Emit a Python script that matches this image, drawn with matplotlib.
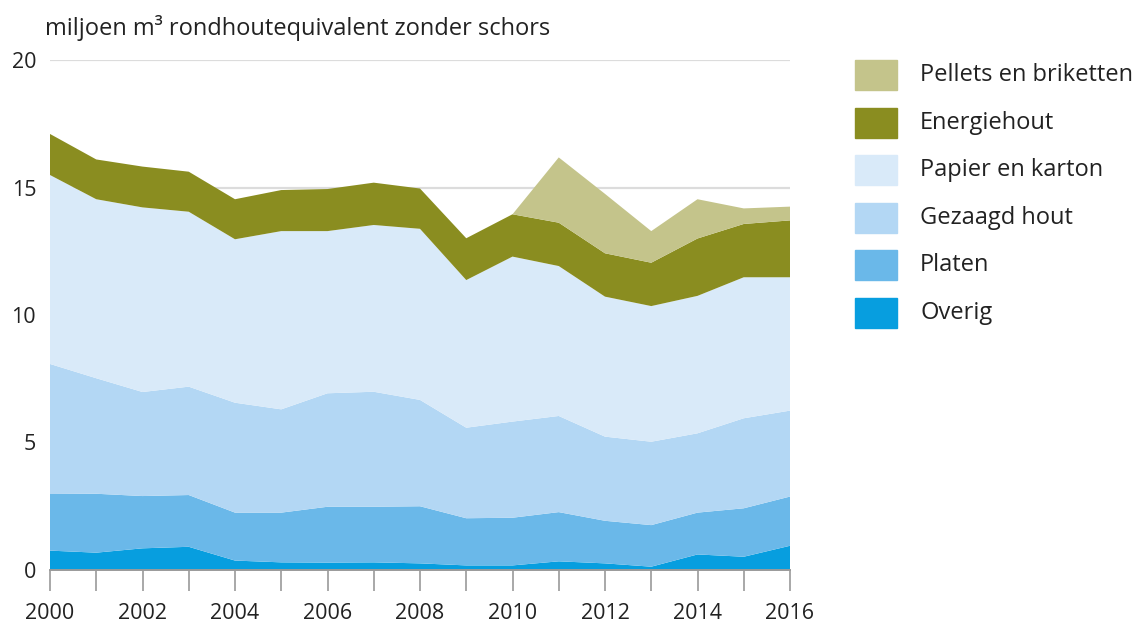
import matplotlib
matplotlib.use("Agg")
import matplotlib.pyplot as plt
from matplotlib.patches import Rectangle

plt.rcParams["font.family"] = ["Open Sans", "DejaVu Sans"]

years = list(range(2000, 2017))

# values per category, miljoen m3
overig = [0.76, 0.68, 0.85, 0.91, 0.37, 0.30, 0.29, 0.30, 0.26, 0.18, 0.18, 0.34, 0.26, 0.13, 0.61, 0.52, 0.95]
platen = [2.22, 2.31, 2.05, 2.03, 1.88, 1.95, 2.19, 2.18, 2.24, 1.85, 1.87, 1.93, 1.67, 1.63, 1.64, 1.90, 1.93]
gezaagd = [5.10, 4.53, 4.08, 4.25, 4.31, 4.05, 4.45, 4.51, 4.17, 3.55, 3.77, 3.77, 3.30, 3.27, 3.11, 3.53, 3.37]
papier = [7.41, 7.02, 7.24, 6.86, 6.41, 6.99, 6.36, 6.54, 6.71, 5.79, 6.47, 5.88, 5.49, 5.32, 5.39, 5.53, 5.23]
energiehout = [1.61, 1.56, 1.60, 1.57, 1.57, 1.61, 1.65, 1.66, 1.58, 1.64, 1.66, 1.70, 1.70, 1.70, 2.25, 2.09, 2.23]
pellets = [0, 0, 0, 0, 0, 0, 0, 0, 0, 0, 0, 2.56, 2.33, 1.24, 1.54, 0.61, 0.54]

labels = ["Overig", "Platen", "Gezaagd hout", "Papier en karton", "Energiehout", "Pellets en briketten"]
colors = ["#079edf", "#6ab8e9", "#b3d7f4", "#d9eaf9", "#8a8d20", "#c4c48b"]

y_ticks = [0, 5, 10, 15, 20]
x_ticks = list(range(2000, 2017, 2))

W, H = 1136, 624
fig = plt.figure(figsize=(W / 100, H / 100), dpi=100)
ax = fig.add_axes([50 / W, 1 - 570 / H, 740 / W, 510 / H])

ax.stackplot(years, overig, platen, gezaagd, papier, energiehout, pellets,
             colors=colors, linewidth=0, zorder=2)

ax.set_xlim(2000, 2016)
ax.set_ylim(0, 20)

for y in y_ticks[1:]:
    ax.axhline(y, color="#dcdcdc", lw=1.6, zorder=1)

for s in ["top", "right", "left"]:
    ax.spines[s].set_visible(False)
ax.spines["bottom"].set_color("#9a9a9a")
ax.spines["bottom"].set_linewidth(1.4)
ax.spines["bottom"].set_zorder(3)

ax.set_yticks(y_ticks)
ax.set_yticklabels([str(v) for v in y_ticks])
ax.tick_params(axis="y", length=0, pad=10, labelsize=15.5, labelcolor="#222222")

ax.set_xticks(x_ticks)
ax.set_xticks(years, minor=True)
ax.set_xticklabels([str(v) for v in x_ticks])
ax.tick_params(axis="x", which="both", length=15, width=1.2, color="#9a9a9a",
               direction="out")
ax.tick_params(axis="x", which="major", pad=9, labelsize=15.5, labelcolor="#222222")

fig.text(45 / W, 1 - 28 / H, "miljoen m³ rondhoutequivalent zonder schors",
         fontsize=17, color="#222222", va="center", ha="left")

# legend, top entry first
row_y = [75, 123, 170, 218, 265, 313]
for name, col, ry in zip(labels[::-1], colors[::-1], row_y):
    fig.patches.append(Rectangle((855 / W, 1 - (ry + 15) / H), 42 / W, 30 / H,
                                 transform=fig.transFigure, color=col))
    fig.text(920 / W, 1 - ry / H, name, fontsize=17, color="#222222",
             va="center", ha="left")

fig.savefig("out.png", dpi=100)
